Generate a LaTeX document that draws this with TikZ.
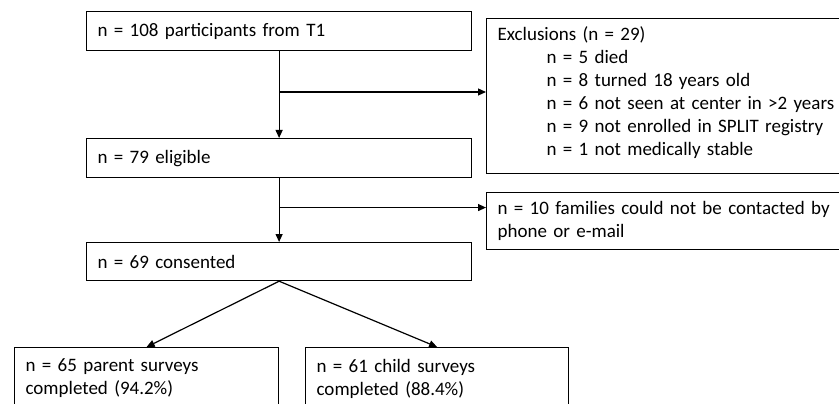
\documentclass[tikz,border=0pt]{standalone}
\usepackage{fontspec}
\setmainfont{Carlito}
\usetikzlibrary{positioning}
\usetikzlibrary{calc}
\usetikzlibrary{arrows.meta}

\tikzset{
  stage/.style={draw, line width=1.2pt, anchor=north west, inner xsep=11pt,
    inner ysep=0pt, align=left, font=\fontsize{19}{23}\selectfont},
  flow/.style={line width=1.2pt, -{Triangle[length=8pt,width=7pt]}}
}

\begin{document}
\begin{tikzpicture}[x=1pt,y=-1pt]
    \useasboundingbox (0,0) rectangle (839,404);
    % main column
    \node[stage, text width=363pt, minimum height=39pt] (t1) at (86,11) {n = 108 participants from T1};
    \node[stage, text width=363pt, minimum height=39pt] (eligible) at (86,138) {n = 79 eligible};
    \node[stage, text width=363pt, minimum height=38pt] (consented) at (86,242) {n = 69 consented};
    % side boxes
    \node[stage, text width=352pt, minimum height=155pt] (excl) at (486,18)
        {Exclusions (n = 29)\\
         \hspace*{49pt}n = 5 died\\
         \hspace*{49pt}n = 8 turned 18 years old\\
         \hspace*{49pt}n = 6 not seen at center in >2 years\\
         \hspace*{49pt}n = 9 not enrolled in SPLIT registry\\
         \hspace*{49pt}n = 1 not medically stable\\[-12pt]\mbox{}};
    \node[stage, text width=352pt, minimum height=57pt] (nocontact) at (486,192)
        {n = 10 families could not be contacted by\\ phone or e-mail};
    % surveys
    \node[stage, text width=242pt, minimum height=62pt] (parent) at (14,347)
        {n = 65 parent surveys\\ completed (94.2\%)};
    \node[stage, text width=241pt, minimum height=62pt] (child) at (305,347)
        {n = 61 child surveys\\ completed (88.4\%)};

    \coordinate (b1) at ($(t1.south)!0.47!(eligible.north)$);
    \coordinate (b2) at ($(eligible.south)!0.46!(consented.north)$);

    \draw[flow] (t1.south) -- (eligible.north);
    \draw[flow] (b1) -- (b1 -| excl.west);
    \draw[flow] (eligible.south) -- (consented.north);
    \draw[flow] (b2) -- (b2 -| nocontact.west);
    \draw[flow] (consented.south) -- (parent.north);
    \draw[flow] (consented.south) -- (child.north);
\end{tikzpicture}
\end{document}
